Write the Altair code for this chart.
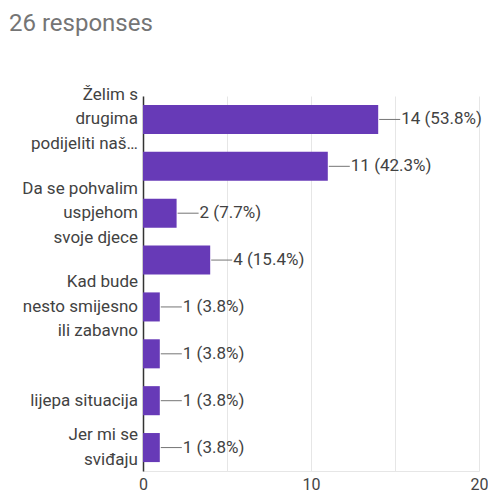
import altair as alt
import pandas as pd

labels = [
    ["Želim s", "drugima", "podijeliti naš…"],
    [],
    ["Da se pohvalim", "uspjehom", "svoje djece"],
    [],
    ["Kad bude", "nesto smijesno", "ili zabavno"],
    [],
    ["lijepa situacija"],
    ["Jer mi se", "sviđaju"],
]
counts = [14, 11, 2, 4, 1, 1, 1, 1]
percents = ["53.8%", "42.3%", "7.7%", "15.4%", "3.8%", "3.8%", "3.8%", "3.8%"]
x_ticks = [0, 5, 10, 15, 20]

LINE_H = 24.5
purple = "#673ab7"
text_color = "#424242"

df = pd.DataFrame({
    "idx": list(range(len(counts))),
    "count": counts,
    "txt": [f"{c} ({p})" for c, p in zip(counts, percents)],
})

rows = []
for i, lab in enumerate(labels):
    n = len(lab)
    for j, line in enumerate(lab):
        rows.append({"idx": i, "line": line, "dy": (j - (n - 1) / 2) * LINE_H})
lab_df = pd.DataFrame(rows)

y_scale = alt.Scale(paddingInner=0.38, paddingOuter=0.19)

y_enc = alt.Y(
    "idx:O",
    sort=None,
    scale=y_scale,
    axis=alt.Axis(
        title=None,
        ticks=False,
        labels=False,
        domainColor="#333333",
        domainWidth=1.5,
        grid=False,
    ),
)

x_enc = alt.X(
    "count:Q",
    scale=alt.Scale(domain=[0, 20], nice=False),
    axis=alt.Axis(
        title=None,
        values=x_ticks,
        ticks=False,
        domain=True,
        domainColor="#e6e6e6",
        domainWidth=1,
        grid=True,
        gridColor="#e6e6e6",
        gridWidth=1,
        labelFlush=False,
        labelExpr="datum.value % 10 == 0 ? datum.label : ''",
        labelFont="Roboto",
        labelFontSize=16,
        labelColor="#444444",
        labelPadding=5,
    ),
)

bars = alt.Chart(df).mark_bar(color=purple).encode(x=x_enc, y=y_enc)

conn = alt.Chart(df).mark_rule(color="#757575", strokeWidth=1, xOffset=1, x2Offset=22).encode(
    x="count:Q", x2="count:Q", y=alt.Y("idx:O", sort=None)
)

txt = alt.Chart(df).mark_text(
    align="left", baseline="middle", dx=23, font="Roboto", fontSize=17, color=text_color
).encode(x="count:Q", y=alt.Y("idx:O", sort=None), text="txt:N")

ylabels = alt.Chart(lab_df).mark_text(
    align="right", baseline="middle", font="Roboto", fontSize=17, color=text_color,
    dy={"expr": "datum.dy"},
).encode(x=alt.value(-5), y=alt.Y("idx:O", sort=None), text="line:N")

chart = (
    alt.layer(bars, conn, txt, ylabels)
    .properties(
        width=336,
        height=375,
        autosize=alt.AutoSizeParams(type="none"),
        padding={"left": 135, "top": 88, "right": 9, "bottom": 22},
        title=alt.TitleParams(
            "26 responses",
            anchor="start",
            frame="group",
            dx=-134,
            offset=50,
            font="Roboto",
            fontSize=24,
            fontWeight="normal",
            color="#757575",
        ),
    )
    .configure_view(stroke=None)
)

chart.save("out.html", embed_options={"renderer": "svg", "actions": False})
